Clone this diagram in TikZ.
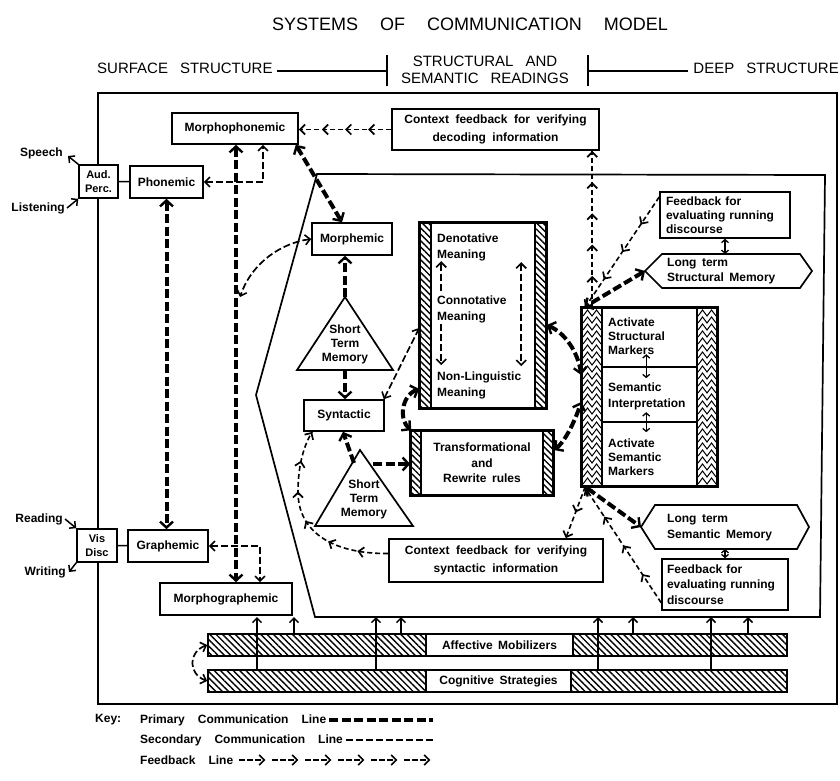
\documentclass[tikz,border=0pt]{standalone}
\usepackage{fontspec}
\setmainfont{Liberation Sans}
\usetikzlibrary{arrows.meta,patterns.meta,decorations.markings}

\newcommand\lblfont{\bfseries\fontsize{12}{14}\selectfont\spaceskip=5.5pt plus 1pt\relax}
\newcommand\lblwide{\bfseries\fontsize{12}{15.5}\selectfont\spaceskip=5.5pt plus 1pt\relax}
\newcommand\ctxfont{\bfseries\fontsize{12}{18}\selectfont\spaceskip=6.5pt plus 1pt\relax}
\newcommand\smlfont{\bfseries\fontsize{11}{13.5}\selectfont}
\newcommand\ttlfont{\fontsize{18}{20}\selectfont\spaceskip=22pt\relax}
\newcommand\hdrfont{\fontsize{15}{17}\selectfont\spaceskip=12pt\relax}
\newcommand\keyfont{\bfseries\fontsize{12}{14}\selectfont\spaceskip=13pt\relax}

\tikzset{
  fbtip/.tip={Straight Barb[length=5pt,width=10pt,line width=1.7pt]},
  box/.style={draw,line width=1.6pt,fill=white,inner sep=0pt,align=center,font=\lblfont},
  txt/.style={inner sep=0pt,align=left,font=\lblfont},
  frame/.style={line width=1.7pt},
  primary/.style={line width=4pt,dash pattern=on 9pt off 3.5pt,
    >={Straight Barb[length=6pt,width=13pt,line width=2.4pt]}},
  secondary/.style={line width=1.7pt,dash pattern=on 7pt off 3pt,
    >={Straight Barb[length=5pt,width=10pt,line width=1.6pt]}},
  solidln/.style={line width=1.5pt,
    >={Straight Barb[length=4.5pt,width=9pt,line width=1.5pt]}},
  tiny/.style={line width=1.4pt,
    >={Straight Barb[length=3pt,width=7pt,line width=1.3pt]}},
  feedback/.style={line width=1.6pt,dash pattern=on 5pt off 3pt,
    postaction={decorate,decoration={markings,
      mark=between positions 0.999/#1 and 1 step 0.999/#1 with {\arrow{fbtip}}}}},
  feedback/.default=4,
  hatch/.style={pattern={Lines[angle=-45,distance=4.5pt,line width=1.4pt]}},
  chev/.style={line width=1pt},
}

\begin{document}
\begin{tikzpicture}[x=1pt,y=-1pt]
\useasboundingbox (0,0) rectangle (840,781);

% ---------- title and header ----------
\node[font=\ttlfont] (title) at (470,24) {SYSTEMS OF COMMUNICATION MODEL};
\node[font=\hdrfont,anchor=west,inner sep=0pt] (surf) at (97,68) {SURFACE STRUCTURE};
\node[font=\hdrfont,align=center,inner sep=0pt] (mid) at (485,70) {STRUCTURAL AND\\SEMANTIC READINGS};
\node[font=\hdrfont,anchor=east,inner sep=0pt] (deep) at (839,68) {DEEP STRUCTURE};
\coordinate (b1t) at (387,55); \coordinate (b1b) at (387,86);
\coordinate (b2t) at (588,55); \coordinate (b2b) at (588,86);
\draw[line width=1.5pt] (b1t) -- (b1b) (b2t) -- (b2b);
\coordinate (s1) at ([xshift=4pt,yshift=-3pt]surf.east);
\coordinate (d1) at ([xshift=-5pt,yshift=-3pt]deep.west);
\draw[line width=1.5pt] (s1) -- (s1 -| b1t) (d1) -- (d1 -| b2t);

% ---------- frames ----------
\draw[line width=2.2pt] (98,93) rectangle (837,704);
\draw[frame] (317,174) -- (825,175) -- (820,617) -- (315,617) -- (256,395) -- cycle;
\coordinate (pb) at (0,617);

% ---------- surface-level boxes ----------
\node[box,minimum width=39pt,minimum height=33pt,font=\smlfont] (audp) at (98.5,181.5) {Aud.\\Perc.};
\node[box,minimum width=73pt,minimum height=32pt] (phon) at (166.5,182) {Phonemic};
\node[box,minimum width=126pt,minimum height=31pt] (mph) at (235,128.5) {Morphophonemic};
\node[box,minimum width=207pt,minimum height=41pt,font=\ctxfont] (ctxd) at (495.5,129.5) {Context feedback for verifying\\decoding information};
\node[box,minimum width=80pt,minimum height=32pt] (morph) at (352,239) {Morphemic};
\node[box,minimum width=80pt,minimum height=31pt] (synt) at (344,415.5) {Syntactic};
\node[box,minimum width=214pt,minimum height=43pt,font=\ctxfont] (ctxs) at (496,560.5) {Context feedback for verifying\\syntactic information};
\node[box,minimum width=80pt,minimum height=32pt] (graph) at (168,546) {Graphemic};
\node[box,minimum width=40pt,minimum height=33pt,font=\smlfont] (visd) at (97,545.5) {Vis\\Disc};
\node[box,minimum width=132pt,minimum height=32pt] (mgr) at (226,599) {Morphographemic};
\node[box,minimum width=130pt,minimum height=46pt,text width=118pt,align=left,font=\lblfont] (fbt) at (725,215) {Feedback for\\evaluating running\\discourse};
\node[box,minimum width=126pt,minimum height=51pt,text width=116pt,align=left,font=\lblwide] (fbb) at (725,584.5) {Feedback for\\evaluating running\\discourse};

% input / output labels
\node[font=\lblfont,anchor=east,inner sep=0pt] (speech) at (63,153) {Speech};
\node[font=\lblfont,anchor=east,inner sep=0pt] (listen) at (65,208) {Listening};
\node[font=\lblfont,anchor=east,inner sep=0pt] (reading) at (63,519) {Reading};
\node[font=\lblfont,anchor=east,inner sep=0pt] (writing) at (66,572) {Writing};
\draw[solidln,->] (audp.north west) -- ([xshift=5pt,yshift=-3pt]speech.east);
\draw[solidln,->] ([xshift=2pt]listen.east) -- (audp.south west);
\draw[solidln,->] ([xshift=2pt]reading.east) -- (visd.north west);
\draw[solidln,->] (visd.south west) -- ([xshift=3pt]writing.east);
\draw[solidln] (audp) -- (phon);
\draw[solidln] (visd) -- (graph);

% ---------- short term memories ----------
\coordinate (s1a) at (345,297); \coordinate (s1b) at (345,370);
\draw[frame,fill=white] (s1a) -- (393,370) -- (297,370) -- cycle;
\node[txt,align=center] (stm1) at (345,344) {Short\\Term\\Memory};
\coordinate (s2a) at (360,450);
\draw[frame,fill=white] (s2a) -- (413,526) -- (315,526) -- cycle;
\node[txt,align=center] (stm2) at (364,499) {Short\\Term\\Memory};

% ---------- meaning column ----------
\node[box,minimum width=126pt,minimum height=185pt] (den) at (483,315.5) {};
\fill[hatch] (den.north west) rectangle ([xshift=12pt]den.south west);
\fill[hatch] (den.north east) rectangle ([xshift=-12pt]den.south east);
\draw[frame] (den.north west) rectangle (den.south east);
\draw[frame] ([xshift=12pt]den.north west) -- ([xshift=12pt]den.south west)
             ([xshift=-12pt]den.north east) -- ([xshift=-12pt]den.south east);
\node[txt,anchor=west,font=\lblwide] (deno) at (437,247.5) {Denotative\\Meaning};
\node[txt,anchor=west,font=\lblwide] (conn) at (437,309.5) {Connotative\\Meaning};
\node[txt,anchor=west,font=\lblwide] (nonl) at (437,385.5) {Non-Linguistic\\Meaning};
\draw[secondary,->] ([xshift=22pt,yshift=-69pt]den.north west) -- ([xshift=22pt,yshift=-39pt]den.north west);
\draw[secondary,->] ([xshift=22pt,yshift=-102pt]den.north west) -- ([xshift=22pt,yshift=-143pt]den.north west);
\draw[secondary,<->] ([xshift=102pt,yshift=-40pt]den.north west) -- ([xshift=102pt,yshift=-144pt]den.north west);

% ---------- transformational rules ----------
\node[box,minimum width=142pt,minimum height=64pt,font=\lblwide] (trans) at (482,463) {Transformational\\and\\Rewrite rules};
\fill[hatch] (trans.north west) rectangle ([xshift=11pt]trans.south west);
\fill[hatch] (trans.north east) rectangle ([xshift=-11pt]trans.south east);
\draw[frame] (trans.north west) rectangle (trans.south east);
\draw[frame] ([xshift=11pt]trans.north west) -- ([xshift=11pt]trans.south west)
             ([xshift=-11pt]trans.north east) -- ([xshift=-11pt]trans.south east);

% ---------- semantic interpretation column ----------
\node[box,minimum width=135pt,minimum height=178pt] (act) at (649.5,397) {};
\foreach \yy in {310,317,...,478}{
  \draw[chev] (583,\yy+6) -- (587.5,\yy) -- (592,\yy+6) -- (596.5,\yy) -- (601,\yy+6);
  \draw[chev] (698,\yy+6) -- (702.5,\yy) -- (707,\yy+6) -- (711.5,\yy) -- (716,\yy+6);
}
\draw[frame] (act.north west) rectangle (act.south east);
\draw[frame] (602,308) -- (602,486) (697,308) -- (697,486) (602,367) -- (697,367) (602,422) -- (697,422);
\node[txt,anchor=west] (asm) at (608,336) {Activate\\Structural\\Markers};
\node[txt,anchor=west,font=\lblwide] (sin) at (608,396.5) {Semantic\\Interpretation};
\node[txt,anchor=west] (ase) at (608,457) {Activate\\Semantic\\Markers};
\draw[tiny,<->] ([xshift=65pt,yshift=-47pt]act.north west) -- ([xshift=65pt,yshift=-71pt]act.north west);
\draw[tiny,<->] ([xshift=65pt,yshift=-105pt]act.north west) -- ([xshift=65pt,yshift=-125pt]act.north west);

% ---------- long term memories ----------
\coordinate (lss-w) at (645,271); \coordinate (lss-n) at (725,254);
\draw[frame,fill=white] (lss-w) -- (662,254) -- (800,254) -- (812,271) -- (800,288) -- (662,288) -- cycle;
\node[txt,anchor=west,font=\lblwide] (lss) at (667,271) {Long term\\Structural Memory};
\coordinate (lsm-w) at (641,527); \coordinate (lsm-s) at (725,549);
\draw[frame,fill=white] (lsm-w) -- (655,505) -- (797,505) -- (809,527) -- (797,549) -- (655,549) -- cycle;
\node[txt,anchor=west,font=\lblwide] (lsm) at (667,527.5) {Long term\\Semantic Memory};
\draw[tiny,<->] (fbt.south) -- (lss-n);
\draw[tiny,<->] (lsm-s) -- (fbb.north);

% ---------- primary communication lines ----------
\draw[primary,<->] (phon.south) -- (phon.south |- graph.north);
\draw[primary,<->] ([xshift=1pt]mph.south) -- ([xshift=10pt]mgr.north);
\draw[primary,<->] ([xshift=-3pt]mph.south east) -- ([xshift=-10pt]morph.north);
\draw[primary,->] (s1a) -- (s1a |- morph.south);
\draw[primary,->] (s1b) -- (s1b |- synt.north);
\coordinate (s2p) at (354,463); \coordinate (s2q) at (373,464);
\draw[primary,->] (s2p) -- ([xshift=-1pt]synt.south);
\draw[primary,->] (s2q) -- (s2q -| trans.west);
\draw[primary,<->] ([yshift=20pt]den.south west) .. controls (401,396) and (399,420) .. ([xshift=1pt]trans.north west);
\draw[primary,<->] ([yshift=-9.5pt]den.east) .. controls (565,333) and (578,352) .. ([yshift=22pt]act.west);
\draw[primary,<->] ([yshift=13pt]trans.east) .. controls (566,441) and (576,418) .. ([yshift=-5pt]act.west);
\draw[primary,<->] (lss-w) -- ([xshift=3pt]act.north west);
\draw[primary,<->] ([xshift=4pt]act.south west) -- (lsm-w);

% ---------- secondary communication lines ----------
\draw[secondary,<->] (phon.east) -| ([xshift=28pt]mph.south);
\draw[secondary,<->] (graph.east) -| ([xshift=34pt]mgr.north);
\coordinate (vhit) at (240,297);
\draw[secondary,<->] (morph.west) .. controls (282,243) and (252,262) .. (vhit);
\draw[secondary,<->] ([xshift=-1pt]synt.north east) -- ([yshift=-12.5pt]den.west);

% ---------- feedback lines ----------
\draw[feedback=4] (ctxd.west) -- (ctxd.west -| mph.east);
\coordinate (a1) at ([xshift=11pt]act.north west);
\draw[feedback=5] (a1) -- (a1 |- ctxd.south);
\draw[feedback=4] ([yshift=18pt]fbt.west) -- ([xshift=4pt]act.north west);
\draw[feedback=2] ([xshift=4pt]act.south west) -- ([xshift=-38pt]ctxs.north east);
\draw[feedback=4] ([yshift=8pt]fbb.south west) -- ([xshift=4pt,yshift=-1pt]act.south west);
\draw[feedback=6] ([yshift=7pt]ctxs.west) .. controls (330,554) and (298,530) .. (298,492)
                  .. controls (298,465) and (304,445) .. ([xshift=9pt]synt.south west);

% ---------- affective and cognitive bars ----------
\node[draw,line width=1.6pt,hatch,minimum width=579pt,minimum height=22pt,inner sep=0pt] (aff) at (497.5,645) {};
\node[draw,line width=1.6pt,hatch,minimum width=579pt,minimum height=22pt,inner sep=0pt] (cog) at (497.5,681) {};
\node[box,line width=1.3pt,minimum width=147pt,minimum height=22pt] (afft) at (499.5,645) {Affective Mobilizers};
\node[box,line width=1.3pt,minimum width=145pt,minimum height=22pt] (cogt) at (498.5,681) {Cognitive Strategies};
\foreach \xx in {257,376,598,711}{
  \coordinate (cu\xx) at ([xshift={(\xx-497.5)*1pt}]cog.north);
  \draw[solidln,->] (cu\xx) -- (cu\xx |- pb);
}
\foreach \xx in {294,401,633,748}{
  \coordinate (au\xx) at ([xshift={(\xx-497.5)*1pt}]aff.north);
  \draw[solidln,->] (au\xx) -- (au\xx |- pb);
}
\draw[secondary,<->] (aff.west) .. controls (188,652) and (188,674) .. (cog.west);

% ---------- key ----------
\node[font=\keyfont,anchor=west,inner sep=0pt] (key) at (95,720) {Key:};
\node[font=\keyfont,anchor=west,inner sep=0pt] (k1) at (140,720) {Primary Communication Line};
\node[font=\keyfont,anchor=west,inner sep=0pt] (k2) at (140,740) {Secondary Communication Line};
\node[font=\keyfont,anchor=west,inner sep=0pt] (k3) at (140,760) {Feedback Line};
\coordinate (kend) at (433,0);
\draw[primary] ([xshift=3pt]k1.east) -- (k1.east -| kend);
\draw[secondary] ([xshift=3pt]k2.east) -- (k2.east -| kend);
\foreach \i in {0,...,5}{
  \draw[line width=1.6pt,dash pattern=on 6pt off 2pt,-fbtip] ([xshift={6pt+\i*33pt}]k3.east) -- ++(26,0);
}
\end{tikzpicture}
\end{document}
